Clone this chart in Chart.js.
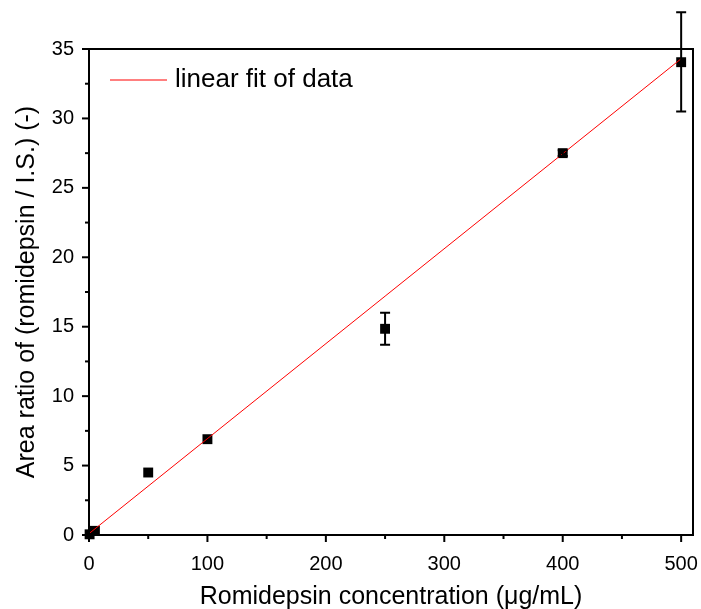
<!DOCTYPE html>
<html>
<head>
<meta charset="utf-8">
<script src="https://cdn.jsdelivr.net/npm/chart.js@4"></script>
<style>
  html, body { margin: 0; padding: 0; background: #fff; }
  #wrap { width: 701px; height: 609px; }
</style>
</head>
<body>
<div id="wrap"><canvas id="myChart" width="701" height="609"></canvas></div>
<script>
// measured points (concentration vs area ratio)
const conc = [0.5, 5, 50, 100, 250, 400, 500]
const ratio = [0.05, 0.3, 4.5, 6.9, 14.85, 27.5, 34.05]
const errLo = [0.05, 0.3, 4.4, 6.8, 13.7, 27.3, 30.5]
const errHi = [0.05, 0.3, 4.6, 7.0, 16.0, 27.7, 37.65]

// fitted line end points
const fitX = [0, 500]
const fitY = [0.1, 34.3]

const xTicks = [0, 100, 200, 300, 400, 500]
const yTicks = [0, 5, 10, 15, 20, 25, 30, 35]

const ctx = document.getElementById('myChart').getContext('2d')
const FONT = "'Liberation Sans', Arial, sans-serif"

// error bars + ticks + box frame + legend
const extras = {
    id: 'extras',
    afterDatasetsDraw(chart) {
        const c = chart.ctx
        const xs = chart.scales.x
        const ys = chart.scales.y
        const a = chart.chartArea
        c.save()
        c.strokeStyle = '#000'
        c.lineWidth = 2
        conc.forEach((x, i) => {
            if (errHi[i] - errLo[i] < 0.3) return
            const px = xs.getPixelForValue(x)
            const top = ys.getPixelForValue(errHi[i])
            const bot = ys.getPixelForValue(errLo[i])
            c.beginPath()
            c.moveTo(px, top); c.lineTo(px, bot)
            c.moveTo(px - 5, top); c.lineTo(px + 5, top)
            c.moveTo(px - 5, bot); c.lineTo(px + 5, bot)
            c.stroke()
        })
        // frame
        c.strokeRect(a.left, a.top, a.right - a.left, a.bottom - a.top)
        // x ticks
        for (let v = 0; v <= 500; v += 50) {
            const px = xs.getPixelForValue(v)
            const len = v % 100 === 0 ? 7 : 4
            c.beginPath(); c.moveTo(px, a.bottom); c.lineTo(px, a.bottom + len); c.stroke()
        }
        // y ticks
        for (let v = 0; v <= 35; v += 2.5) {
            const py = ys.getPixelForValue(v)
            const len = v % 5 === 0 ? 7 : 4
            c.beginPath(); c.moveTo(a.left, py); c.lineTo(a.left - len, py); c.stroke()
        }
        // legend
        const ly = a.top + 31
        c.strokeStyle = '#ff0000'
        c.lineWidth = 1
        c.beginPath(); c.moveTo(a.left + 21, ly); c.lineTo(a.left + 78, ly); c.stroke()
        c.fillStyle = '#000'
        c.font = '26px ' + FONT
        c.textBaseline = 'middle'
        c.fillText(chart.data.datasets[1].label, a.left + 86, ly)
        c.restore()
    }
}

const config = {
    type: 'scatter',
    data: {
        datasets: [
            {
                label: 'data',
                data: conc.map((x, i) => ({x: x, y: ratio[i]})),
                pointStyle: 'rect',
                radius: 7,
                hoverRadius: 7,
                backgroundColor: '#000',
                borderWidth: 0,
                clip: false,
                order: 1,
            },
            {
                type: 'line',
                label: 'linear fit of data',
                data: fitX.map((x, i) => ({x: x, y: fitY[i]})),
                borderColor: '#ff0000',
                backgroundColor: '#ff0000',
                borderWidth: 1,
                pointRadius: 0,
                fill: false,
                order: 0,
            },
        ],
    },
    options: {
        responsive: false,
        animation: false,
        layout: { padding: { top: 49, right: 8, left: 8, bottom: 0 } },
        plugins: {
            tooltip: { enabled: false },
            legend: { display: false },
        },
        scales: {
            x: {
                type: 'linear',
                min: 0,
                max: 510,
                grid: { display: false, drawTicks: false },
                border: { display: false },
                afterBuildTicks: (s) => { s.ticks = xTicks.map(v => ({value: v})) },
                ticks: {
                    autoSkip: false,
                    maxRotation: 0,
                    padding: 17,
                    color: '#000',
                    font: { family: FONT, size: 20 },
                },
                afterFit: (s) => {
                    s.height = 74
                    s.paddingLeft = 0
                    s.paddingRight = 0
                },
                title: {
                    display: true,
                    text: 'Romidepsin concentration (\u03bcg/mL)',
                    color: '#000',
                    font: { family: FONT, size: 25 },
                    padding: { top: 0, bottom: -3 },
                },
            },
            y: {
                min: 0,
                max: 35,
                grid: { display: false, drawTicks: false },
                border: { display: false },
                afterBuildTicks: (s) => { s.ticks = yTicks.map(v => ({value: v})) },
                ticks: {
                    autoSkip: false,
                    padding: 15,
                    color: '#000',
                    font: { family: FONT, size: 20 },
                },
                afterFit: (s) => {
                    s.width = 81
                    s.paddingTop = 0
                    s.paddingBottom = 0
                },
                title: {
                    display: true,
                    text: 'Area ratio of (romidepsin / I.S.) (-)',
                    color: '#000',
                    font: { family: FONT, size: 25 },
                    padding: { bottom: 0 },
                },
            },
        },
    },
    plugins: [extras],
}

const myChart = new Chart(ctx, config)
</script>
</body>
</html>
